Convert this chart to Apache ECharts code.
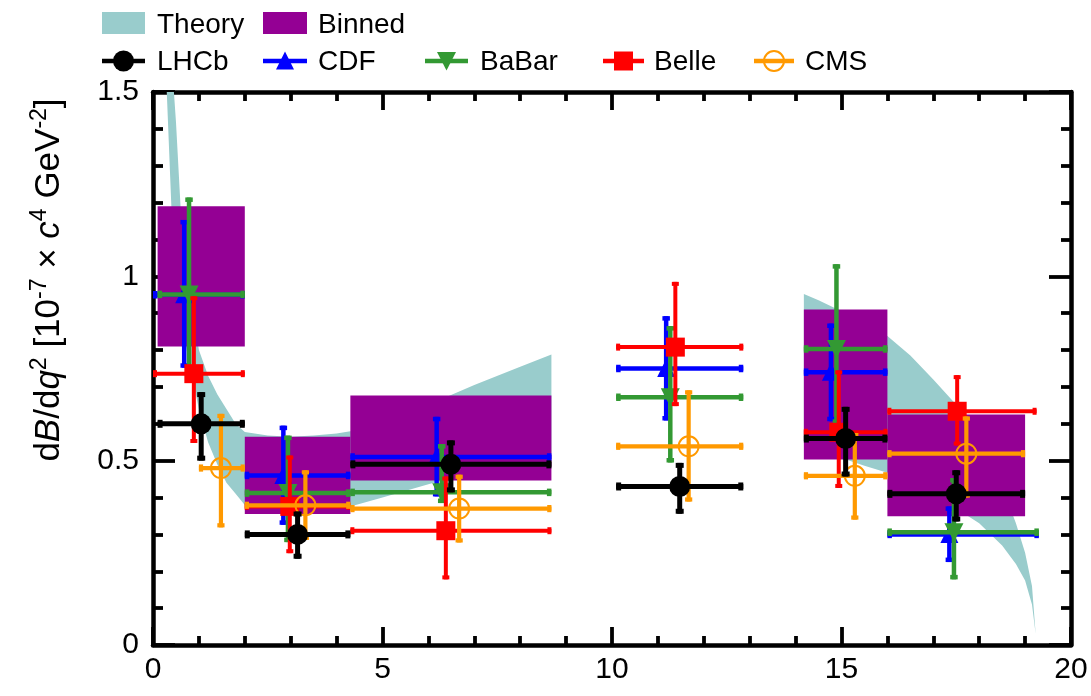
<!DOCTYPE html>
<html>
<head>
<meta charset="utf-8">
<script src="https://cdn.jsdelivr.net/npm/echarts@6/dist/echarts.min.js"></script>
<style>html,body{margin:0;padding:0;background:#fff;}#main{width:1091px;height:696px;}</style>
</head>
<body>
<div id="main"></div>
<script>
// ---------------- data ----------------
// Theory band, low q2 region
const thLowX  = [0.1, 0.2, 0.3, 0.4, 0.5, 0.6, 0.8, 1.0, 1.2, 1.4, 1.6, 1.8, 2.0, 2.5, 3.0, 3.5, 4.0, 4.3, 5.0, 6.0, 7.0, 8.0, 8.68];
const thLowUp = [3.5, 2.3, 1.85, 1.6, 1.42, 1.19, 0.96, 0.80, 0.73, 0.68, 0.64, 0.60, 0.578, 0.568, 0.565, 0.568, 0.574, 0.58, 0.60, 0.652, 0.705, 0.755, 0.788];
const thLowDn = [2.4, 1.8, 1.5, 1.19, 1.0, 0.88, 0.76, 0.64, 0.55, 0.49, 0.44, 0.41, 0.38, 0.365, 0.36, 0.365, 0.372, 0.376, 0.40, 0.436, 0.47, 0.50, 0.52];
// Theory band, high q2 region
const thHighX  = [14.18, 14.5, 15.0, 15.5, 16.0, 16.5, 17.0, 17.5, 18.0, 18.5, 18.8, 19.0, 19.15, 19.23];
const thHighUp = [0.952, 0.935, 0.905, 0.875, 0.838, 0.785, 0.72, 0.652, 0.56, 0.43, 0.33, 0.25, 0.16, 0.03];
const thHighDn = [0.55, 0.535, 0.507, 0.486, 0.467, 0.44, 0.41, 0.37, 0.33, 0.27, 0.22, 0.175, 0.11, 0.03];

// Binned theory
const binLo  = [0.1, 2.0, 4.3, 14.18, 16.0];
const binHi  = [2.0, 4.3, 8.68, 16.0, 19.0];
const binMin = [0.81, 0.355, 0.446, 0.503, 0.349];
const binMax = [1.19, 0.565, 0.677, 0.910, 0.625];

// LHCb
const lhcbX   = [1.05, 3.15, 6.49, 11.475, 15.09, 17.5];
const lhcbXlo = [0.1, 2.0, 4.3, 10.09, 14.18, 16.0];
const lhcbXhi = [2.0, 4.3, 8.68, 12.86, 16.0, 19.0];
const lhcbY   = [0.60, 0.30, 0.49, 0.43, 0.56, 0.41];
const lhcbYlo = [0.50, 0.234, 0.414, 0.356, 0.457, 0.335];
const lhcbYhi = [0.686, 0.362, 0.555, 0.494, 0.646, 0.474];
// CDF
const cdfX   = [0.68, 2.84, 6.18, 11.18, 14.77, 17.35];
const cdfXlo = [0.0, 2.0, 4.3, 10.09, 14.18, 16.0];
const cdfXhi = [2.0, 4.3, 8.68, 12.86, 16.0, 19.3];
const cdfY   = [0.95, 0.46, 0.51, 0.75, 0.74, 0.30];
const cdfYlo = [0.752, 0.326, 0.403, 0.609, 0.607, 0.225];
const cdfYhi = [1.153, 0.595, 0.619, 0.892, 0.872, 0.376];
// BaBar
const babarX   = [0.785, 2.94, 6.29, 11.27, 14.89, 17.45];
const babarXlo = [0.1, 2.0, 4.3, 10.09, 14.18, 16.0];
const babarXhi = [2.0, 4.3, 8.68, 12.86, 16.0, 19.3];
const babarY   = [0.951, 0.412, 0.414, 0.672, 0.803, 0.306];
const babarYlo = [0.73, 0.279, 0.385, 0.495, 0.60, 0.178];
const babarYhi = [1.214, 0.568, 0.545, 0.865, 1.033, 0.453];
// Belle
const belleX   = [0.89, 2.98, 6.38, 11.38, 14.94, 17.52];
const belleXlo = [0.0, 2.0, 4.3, 10.09, 14.18, 16.0];
const belleXhi = [2.0, 4.3, 8.68, 12.86, 16.0, 19.25];
const belleY   = [0.736, 0.376, 0.310, 0.808, 0.577, 0.634];
const belleYlo = [0.548, 0.249, 0.178, 0.648, 0.426, 0.541];
const belleYhi = [0.946, 0.514, 0.457, 0.985, 0.745, 0.732];
// CMS
const cmsX   = [1.48, 3.32, 6.67, 11.67, 15.29, 17.72];
const cmsXlo = [1.0, 2.0, 4.3, 10.09, 14.18, 16.0];
const cmsXhi = [2.0, 4.3, 8.68, 12.86, 16.0, 19.0];
const cmsY   = [0.48, 0.379, 0.370, 0.539, 0.459, 0.519];
const cmsYlo = [0.319, 0.285, 0.278, 0.389, 0.34, 0.40];
const cmsYhi = [0.627, 0.474, 0.462, 0.691, 0.575, 0.620];

// Axis ticks
const xTicks = { min: 0, max: 20, interval: 5 };
const yTicks = { min: 0, max: 1.5, interval: 0.5 };

// ---------------- styles ----------------
const FONT = '"Liberation Sans", Arial, Helvetica, sans-serif';
const C_THEORY = '#99CCCC';
const C_BIN = '#940094';
const C_LHCB = '#000000', C_CDF = '#0000FF', C_BABAR = '#339933', C_BELLE = '#FF0000', C_CMS = '#FF9900';

const chart = echarts.init(document.getElementById('main'), null, { renderer: 'canvas' });

function rows(x, xl, xh, y, yl, yh) {
  return x.map((v, i) => [v, y[i], xl[i], xh[i], yl[i], yh[i]]);
}

function clipTop(pts, top) {
  const out = [];
  const n = pts.length;
  for (let i = 0; i < n; i++) {
    const a = pts[i], b = pts[(i + 1) % n];
    const aIn = a[1] >= top, bIn = b[1] >= top;
    if (aIn) out.push(a);
    if (aIn !== bIn) {
      const t = (top - a[1]) / (b[1] - a[1]);
      out.push([a[0] + t * (b[0] - a[0]), top]);
    }
  }
  return out;
}

const bands = [[thLowX, thLowUp, thLowDn], [thHighX, thHighUp, thHighDn]];

function theoryRender(params, api) {
  const seg = bands[api.value(0)];
  const pts = [];
  for (let i = 0; i < seg[0].length; i++) pts.push(api.coord([seg[0][i], seg[1][i]]));
  for (let i = seg[0].length - 1; i >= 0; i--) pts.push(api.coord([seg[0][i], seg[2][i]]));
  return { type: 'polygon', shape: { points: clipTop(pts, params.coordSys.y) }, style: { fill: C_THEORY } };
}

function binRender(params, api) {
  const p0 = api.coord([api.value(0), api.value(3)]);
  const p1 = api.coord([api.value(1), api.value(2)]);
  return { type: 'rect', shape: { x: p0[0], y: p0[1], width: p1[0] - p0[0], height: p1[1] - p0[1] }, style: { fill: C_BIN } };
}

function markerEl(kind, cx, cy, color) {
  if (kind === 'circle') return { type: 'circle', shape: { cx, cy, r: 10.5 }, style: { fill: color } };
  if (kind === 'open') return { type: 'circle', shape: { cx, cy, r: 10 }, style: { fill: 'none', stroke: color, lineWidth: 2 } };
  if (kind === 'square') return { type: 'rect', shape: { x: cx - 9.5, y: cy - 9.5, width: 19, height: 19 }, style: { fill: color } };
  if (kind === 'tri') return { type: 'polygon', shape: { points: [[cx, cy - 9.5], [cx - 9, cy + 8.5], [cx + 9, cy + 8.5]] }, style: { fill: color } };
  if (kind === 'itri') return { type: 'polygon', shape: { points: [[cx - 9.5, cy - 9], [cx + 9.5, cy - 9], [cx, cy + 9.5]] }, style: { fill: color } };
}

function errRender(color, kind, lw) {
  return function (params, api) {
    const x = api.value(0), y = api.value(1);
    const c = api.coord([x, y]);
    const l = api.coord([api.value(2), y]);
    const r = api.coord([api.value(3), y]);
    const b = api.coord([x, api.value(4)]);
    const t = api.coord([x, api.value(5)]);
    const st = { stroke: color, lineWidth: lw };
    const cap = lw + 3;
    const ch = [
      { type: 'line', shape: { x1: l[0], y1: c[1], x2: r[0], y2: c[1] }, style: st },
      { type: 'line', shape: { x1: c[0], y1: t[1], x2: c[0], y2: b[1] }, style: st },
      { type: 'rect', shape: { x: l[0], y: c[1] - cap / 2, width: lw, height: cap }, style: { fill: color } },
      { type: 'rect', shape: { x: r[0] - lw, y: c[1] - cap / 2, width: lw, height: cap }, style: { fill: color } },
      { type: 'rect', shape: { x: c[0] - cap / 2, y: t[1], width: cap, height: lw }, style: { fill: color } },
      { type: 'rect', shape: { x: c[0] - cap / 2, y: b[1] - lw, width: cap, height: lw }, style: { fill: color } },
      markerEl(kind, c[0], c[1], color)
    ];
    return { type: 'group', children: ch };
  };
}

function expSeries(name, data, color, kind, lw, z) {
  return {
    name, type: 'custom', xAxisIndex: 0, yAxisIndex: 0, z, silent: true,
    renderItem: errRender(color, kind, lw),
    encode: { x: [0, 2, 3], y: [1, 4, 5] },
    data
  };
}

const axisCommon = {
  type: 'value',
  splitLine: { show: false },
  axisLine: { show: true, onZero: false, lineStyle: { color: '#000', width: 4.5 } },
};

function xAx(pos, showLabel) {
  return Object.assign({}, axisCommon, {
    position: pos, min: xTicks.min, max: xTicks.max, interval: xTicks.interval,
    axisTick: { show: true, inside: true, length: 18, lineStyle: { color: '#000', width: 3.8 } },
    minorTick: { show: true, splitNumber: 5, length: 9, lineStyle: { color: '#000', width: 3.8 } },
    axisLabel: { show: showLabel, fontSize: 30, color: '#000', fontFamily: FONT, margin: 10 }
  });
}
function yAx(pos, showLabel) {
  return Object.assign({}, axisCommon, {
    position: pos, min: yTicks.min, max: yTicks.max, interval: yTicks.interval,
    axisTick: { show: true, inside: true, length: 22, lineStyle: { color: '#000', width: 3.8 } },
    minorTick: { show: true, splitNumber: 5, length: 10, lineStyle: { color: '#000', width: 3.8 } },
    axisLabel: { show: showLabel, fontSize: 30, color: '#000', fontFamily: FONT, margin: 14 }
  });
}

// Legend built from graphic elements
const legendY1 = 23, legendY2 = 61;
const legendGraphics = [
  { type: 'rect', shape: { x: 102, y: 12, width: 43, height: 22 }, style: { fill: C_THEORY } },
  { type: 'text', x: 157, y: legendY1 + 2, style: { text: 'Theory', fontSize: 28, fontFamily: FONT, fill: '#000', verticalAlign: 'middle' } },
  { type: 'rect', shape: { x: 263, y: 12, width: 44, height: 22 }, style: { fill: C_BIN } },
  { type: 'text', x: 318, y: legendY1 + 2, style: { text: 'Binned', fontSize: 28, fontFamily: FONT, fill: '#000', verticalAlign: 'middle' } }
];
const legItems = [
  ['LHCb', C_LHCB, 'circle', 102, 145, 157],
  ['CDF', C_CDF, 'tri', 263, 307, 318],
  ['BaBar', C_BABAR, 'itri', 425, 468, 480],
  ['Belle', C_BELLE, 'square', 603, 644, 654],
  ['CMS', C_CMS, 'open', 754, 794, 805]
];
legItems.forEach(([name, color, kind, x0, x1, tx]) => {
  legendGraphics.push({ type: 'line', shape: { x1: x0, y1: legendY2, x2: x1, y2: legendY2 }, style: { stroke: color, lineWidth: 4.5 } });
  legendGraphics.push(markerEl(kind, (x0 + x1) / 2, legendY2, color));
  legendGraphics.push({ type: 'text', x: tx, y: legendY2 + 1, style: { text: name, fontSize: 28, fontFamily: FONT, fill: '#000', verticalAlign: 'middle' } });
});

// Y axis title
legendGraphics.push({
  type: 'text', x: 49, y: 280, rotation: Math.PI / 2,
  style: {
    text: '{n|d}{i|B}{n|/d}{i|q}{s|2}{n| [10}{s|-7}{n| × }{i|c}{s|4}{n| GeV}{s|-2}{n|]}',
    align: 'center', verticalAlign: 'middle', fill: '#000',
    rich: {
      n: { fontSize: 35, fontFamily: FONT, fill: '#000', lineHeight: 42 },
      i: { fontSize: 35, fontFamily: FONT, fontStyle: 'italic', fill: '#000', lineHeight: 42 },
      s: { fontSize: 23, fontFamily: FONT, fill: '#000', verticalAlign: 'top', lineHeight: 30 }
    }
  }
});

const option = {
  animation: false,
  backgroundColor: '#fff',
  grid: { left: 153, right: 20, top: 92, bottom: 51, containLabel: false },
  xAxis: [xAx('bottom', true), xAx('top', false)],
  yAxis: [yAx('left', true), yAx('right', false)],
  graphic: legendGraphics,
  series: [
    { name: 'Theory', type: 'custom', xAxisIndex: 0, yAxisIndex: 0, z: 1, silent: true, renderItem: theoryRender, data: [[0], [1]], encode: { x: -1, y: -1 } },
    { name: 'Binned', type: 'custom', xAxisIndex: 0, yAxisIndex: 0, z: 2, silent: true, renderItem: binRender,
      encode: { x: [0, 1], y: [2, 3] },
      data: binLo.map((v, i) => [v, binHi[i], binMin[i], binMax[i]]) },
    expSeries('CDF', rows(cdfX, cdfXlo, cdfXhi, cdfY, cdfYlo, cdfYhi), C_CDF, 'tri', 4.5, 3),
    expSeries('BaBar', rows(babarX, babarXlo, babarXhi, babarY, babarYlo, babarYhi), C_BABAR, 'itri', 4.5, 4),
    expSeries('Belle', rows(belleX, belleXlo, belleXhi, belleY, belleYlo, belleYhi), C_BELLE, 'square', 4, 5),
    expSeries('CMS', rows(cmsX, cmsXlo, cmsXhi, cmsY, cmsYlo, cmsYhi), C_CMS, 'open', 4.2, 6),
    expSeries('LHCb', rows(lhcbX, lhcbXlo, lhcbXhi, lhcbY, lhcbYlo, lhcbYhi), C_LHCB, 'circle', 5, 7)
  ]
};
chart.setOption(option);
</script>
</body>
</html>
